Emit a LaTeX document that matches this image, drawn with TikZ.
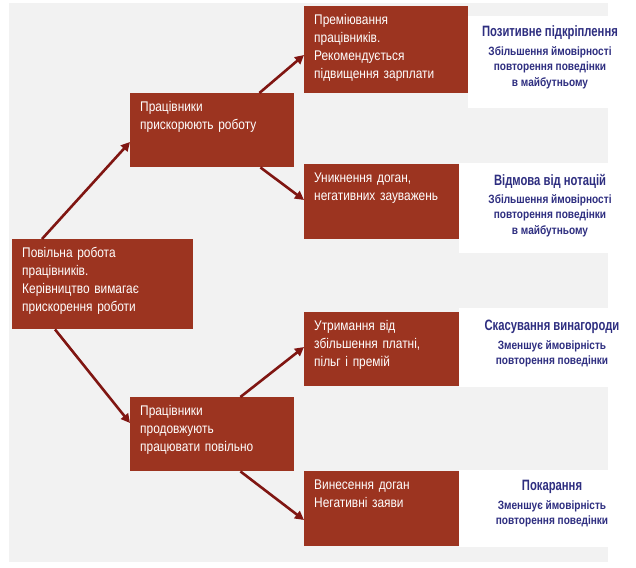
\documentclass[tikz,border=0pt]{standalone}
\usepackage{fontspec}
\setmainfont{Liberation Sans}
\newfontfamily\boxfont[FakeStretch=0.85]{Liberation Sans}
\newfontfamily\labfont[FakeStretch=0.75]{Liberation Sans}
\newfontfamily\subfont[FakeStretch=0.84]{Liberation Sans}
\usetikzlibrary{positioning,arrows.meta}
\definecolor{boxred}{RGB}{156,52,32}
\definecolor{arrowred}{RGB}{128,22,18}
\definecolor{labblue}{RGB}{46,46,128}
\definecolor{bggray}{RGB}{242,242,242}
\tikzset{
  >={Triangle[length=9pt,width=9pt]},
  box/.style={fill=boxred, text=white, anchor=north west, align=left,
    inner xsep=10pt, inner ysep=8pt, text height=10.5pt,
    font=\boxfont\fontsize{14}{18}\selectfont},
  head/.style={text=labblue, inner sep=0pt,
    font=\labfont\bfseries\fontsize{15}{17}\selectfont},
  sub/.style={text=labblue, align=center, inner sep=0pt,
    font=\subfont\bfseries\fontsize{12}{15.5}\selectfont},
  link/.style={->, draw=arrowred, line width=2.6pt},
}

\begin{document}
\begin{tikzpicture}[x=1pt,y=-1pt,node distance=6pt]
\useasboundingbox (0,0) rectangle (636,567);
% background and white label panels
\fill[bggray] (9,3) rectangle (608,562);
\fill[white] (468,16) rectangle (636,108);
\fill[white] (459,163) rectangle (636,253);
\fill[white] (459,308) rectangle (636,387);
\fill[white] (459,470) rectangle (636,547);

\node[box,text width=161pt,text depth=63.5pt] (slow) at (12,239)
  {Повільна робота\\працівників.\\Керівництво вимагає\\прискорення роботи};
\node[box,text width=144pt,text depth=47.5pt] (faster) at (130,93)
  {Працівники\\прискорюють роботу};
\node[box,text width=144pt,text depth=47.5pt] (still) at (130,397)
  {Працівники\\продовжують\\працювати повільно};

\node[box,text width=144pt,text depth=60.5pt] (bonus) at (304,6)
  {Преміювання\\працівників.\\Рекомендується\\підвищення зарплати};
\node[box,text width=135pt,text depth=48.5pt] (avoid) at (304,164)
  {Уникнення доган,\\негативних зауважень};
\node[box,text width=135pt,text depth=47.5pt] (hold) at (304,312)
  {Утримання від\\збільшення платні,\\пільг і премій};
\node[box,text width=135pt,text depth=48.5pt] (rebuke) at (304,471)
  {Винесення доган\\Негативні заяви};

% labels on the right
\node[head] (posH) at (550,33) {Позитивне підкріплення};
\node[sub,below=of posH] (posS) {Збільшення ймовірності\\повторення поведінки\\в майбутньому};
\node[head] (negH) at (550,181) {Відмова від нотацій};
\node[sub,below=of negH] (negS) {Збільшення ймовірності\\повторення поведінки\\в майбутньому};
\node[head] (cancH) at (552,327) {Скасування винагороди};
\node[sub,below=of cancH] (cancS) {Зменшує ймовірність\\повторення поведінки};
\node[head] (punH) at (552,487) {Покарання};
\node[sub,below=of punH] (punS) {Зменшує ймовірність\\повторення поведінки};

\path
([xshift=30pt]slow.north west) edge[link] ([yshift=-49pt]faster.north west)
([xshift=43pt]slow.south west) edge[link] ([yshift=-26pt]still.north west)
([xshift=-35pt]faster.north east) edge[link] ([yshift=-49pt]bonus.north west)
([xshift=-34pt]faster.south east) edge[link] ([yshift=-36pt]avoid.north west)
([xshift=-54pt]still.north east) edge[link] ([yshift=-35pt]hold.north west)
([xshift=-54pt]still.south east) edge[link] ([yshift=-49pt]rebuke.north west);
\end{tikzpicture}
\end{document}
